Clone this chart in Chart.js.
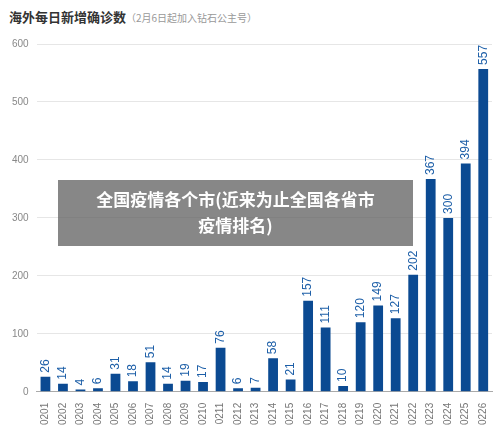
<!DOCTYPE html>
<html><head><meta charset="utf-8">
<script src="https://cdn.jsdelivr.net/npm/chart.js@4"></script>
<style>
body{margin:0;background:#fff;font-family:"Noto Sans CJK SC",sans-serif;}
#wrap{position:relative;width:500px;height:428px;}
#title{position:absolute;left:9px;top:7px;font-size:13px;font-weight:bold;color:#333;}
#title span{font-weight:normal;font-size:10px;color:#999;}
#cv{position:absolute;left:0;top:30px;}
#ov{position:absolute;left:58px;top:180px;width:355px;height:66px;background:rgba(95,95,95,0.75);color:#fff;font-weight:bold;font-size:17px;text-align:center;line-height:26px;padding-top:6px;box-sizing:border-box;}
</style></head><body>
<div id="wrap">
<div id="title">海外每日新增确诊数<span>（2月6日起加入钻石公主号）</span></div>
<canvas id="cv" width="500" height="398"></canvas>
<div id="ov">全国疫情各个市(近来为止全国各省市<br>疫情排名)</div>
</div>
<script>
const categories=["0201","0202","0203","0204","0205","0206","0207","0208","0209","0210","0211","0212","0213","0214","0215","0216","0217","0218","0219","0220","0221","0222","0223","0224","0225","0226"];
const values=[26,14,4,6,31,18,51,14,19,17,76,6,7,58,21,157,111,10,120,149,127,202,367,300,394,557];
const yTicks=[0,100,200,300,400,500,600];
const labelPlugin={id:'lbl',afterDatasetsDraw(c){const ctx=c.ctx;const m=c.getDatasetMeta(0);ctx.save();ctx.fillStyle='#1d5fa8';ctx.font='12px "Liberation Sans",sans-serif';ctx.textAlign='left';ctx.textBaseline='middle';m.data.forEach((b,i)=>{ctx.save();ctx.translate(b.x,b.y-4);ctx.rotate(-Math.PI/2);ctx.fillText(values[i],0,0);ctx.restore();});ctx.restore();}};
new Chart(document.getElementById('cv'),{type:'bar',data:{labels:categories,datasets:[{data:values,backgroundColor:'#0b4a92',categoryPercentage:0.9,barPercentage:0.62}]},
options:{responsive:false,animation:false,layout:{padding:{left:4,right:8,top:13}},plugins:{legend:{display:false},tooltip:{enabled:false}},
scales:{x:{grid:{display:false},border:{color:'#aaa'},ticks:{color:'#777',font:{size:10,family:'"Liberation Sans",sans-serif'},minRotation:90,maxRotation:90,autoSkip:false}},
y:{min:0,max:600,afterBuildTicks(a){a.ticks=yTicks.map(v=>({value:v}));},grid:{color:'#e6e6e6',drawTicks:false},border:{display:false},ticks:{color:'#888',padding:8,font:{size:10,family:'"Liberation Sans",sans-serif'}}}}},
plugins:[labelPlugin]});
</script>
</body></html>
